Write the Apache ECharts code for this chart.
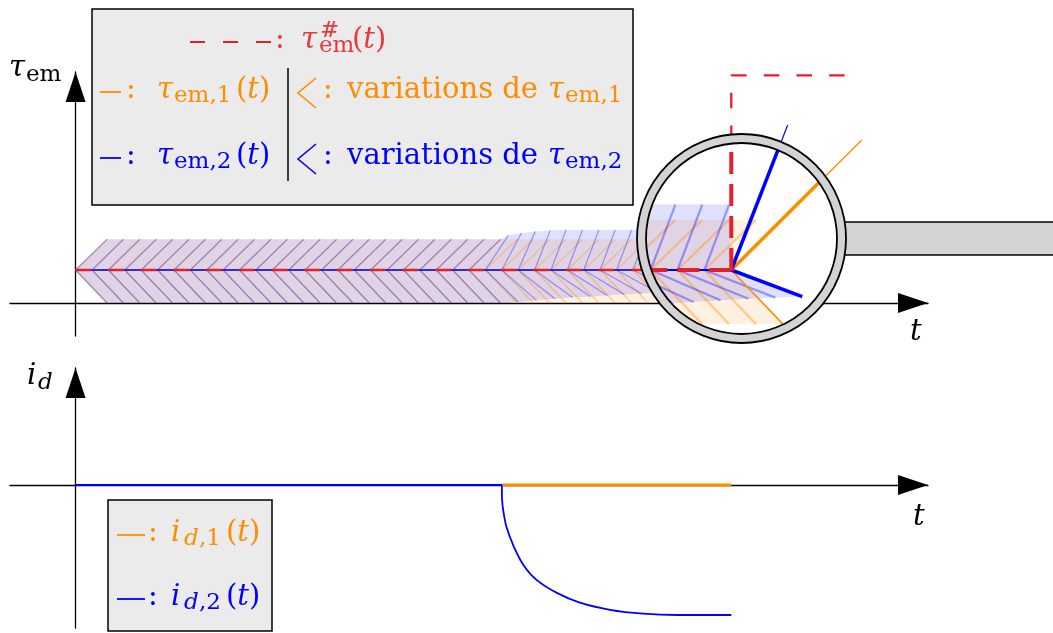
<!DOCTYPE html>
<html><head><meta charset="utf-8">
<script src="https://cdn.jsdelivr.net/npm/echarts@6/dist/echarts.min.js"></script>
<style>html,body{margin:0;padding:0;background:#fff}#c{width:1053px;height:633px}</style>
</head><body><div id="c"></div>
<script>
// ---------------- data ----------------
// reference torque (step at t = 10)
const tauRef = [[0, 1], [10, 1], [10, 6.9], [11.78, 6.9]];
// torque responses
const tau1 = [[0, 1], [10, 1], [11.99, 4.94]];
const tau2 = [[0, 1], [10, 1], [10.86, 5.39]];
// instants where the variation cones "<" are drawn
const chevronT = [0, 0.25, 0.5, 0.75, 1, 1.25, 1.5, 1.75, 2, 2.25, 2.5, 2.75, 3, 3.25, 3.5, 3.75,
  4, 4.25, 4.5, 4.75, 5, 5.25, 5.5, 5.75, 6, 6.25, 6.5, 6.75, 7, 7.25, 7.5, 7.75, 8, 8.25, 8.5,
  8.75, 9, 9.25, 9.5, 9.75, 10];
// cone arms (dt, dtau) common to both machines before divergence, and for machine 1 throughout
const armBase = { upDt: 0.48, upDtau: 0.93, downDt: 0.48, downDtau: -1.0 };
// machine 2 cone arms from t = 6.25 to 10
const blueDivergeT = 6.25;
const blueUpDt = [0.35, 0.30, 0.26, 0.24, 0.23, 0.23, 0.23, 0.23, 0.23, 0.23, 0.23, 0.23, 0.23, 0.23, 0.23, 0.23];
const blueUpDtau = [1.05, 1.12, 1.17, 1.20, 1.21, 1.21, 1.21, 1.21, 1.21, 1.21, 1.21, 1.21, 1.21, 1.21, 1.21, 1.21];
const blueDownDt = [0.50, 0.53, 0.56, 0.58, 0.60, 0.61, 0.62, 0.63, 0.63, 0.64, 0.64, 0.65, 0.65, 0.66, 0.66, 0.66];
const blueDownDtau = [-0.97, -0.92, -0.87, -0.83, -0.80, -0.77, -0.74, -0.71, -0.68, -0.65, -0.62, -0.59, -0.56, -0.53, -0.51, -0.49];
// d-axis currents
const id1 = [[6.5, 0], [10, 0]];
const id2 = [[0, 0], [6.5, 0], [6.503, -0.1], [6.52, -0.19], [6.57, -0.32], [6.68, -0.47], [6.83, -0.615],
  [7.03, -0.73], [7.34, -0.83], [7.69, -0.905], [8.15, -0.96], [8.66, -0.99], [9.17, -1.0], [10, -1.0]];
// magnifier (centre in data units)
const lensCenter = [10.156, 1.955];

// ---------------- style ----------------
const BLUE = '#0000ff', ORANGE = '#ff8c00', RED = '#e4202a', RED_T = '#e8383d';
const FONT = 'DejaVu Serif';
const S = 29, SS = 23;
const W = 1053;
const M = 1.64, R_IN = 95.5, R_OUT = 104.5;

function armsOf(key) {
  const j0 = chevronT.indexOf(blueDivergeT);
  return chevronT.map((t, i) => {
    if (key === 'o' || i < j0) return { t, up: [armBase.upDt, armBase.upDtau], down: [armBase.downDt, armBase.downDtau] };
    const j = i - j0;
    return { t, up: [blueUpDt[j], blueUpDtau[j]], down: [blueDownDt[j], blueDownDtau[j]] };
  });
}
const BASE = tauRef[0][1];
const SER = [
  { key: 'o', arms: armsOf('o'), fill: 'rgba(255,140,0,0.12)', line: 'rgba(255,140,0,0.38)', color: ORANGE, tau: tau1 },
  { key: 'b', arms: armsOf('b'), fill: 'rgba(0,0,255,0.12)', line: 'rgba(20,20,255,0.38)', color: BLUE, tau: tau2 }
];
function fillPoly(arms) {
  const n = arms.length, pts = [[arms[0].t, BASE]];
  for (let i = 0; i < n - 1; i++) pts.push([arms[i].t + arms[i].up[0], BASE + arms[i].up[1]]);
  pts.push([arms[n - 1].t, BASE]);
  for (let i = n - 1; i >= 0; i--) pts.push([arms[i].t + arms[i].down[0], BASE + arms[i].down[1]]);
  return pts;
}

function renderChevrons(params, api) {
  const ch = [];
  SER.forEach(s => {
    ch.push({ type: 'polygon', shape: { points: fillPoly(s.arms).map(p => api.coord(p)) }, style: { fill: s.fill } });
  });
  SER.forEach(s => {
    s.arms.slice(0, -1).forEach(a => {
      const v = api.coord([a.t, BASE]);
      const u = api.coord([a.t + a.up[0], BASE + a.up[1]]);
      const d = api.coord([a.t + a.down[0], BASE + a.down[1]]);
      ch.push({ type: 'polyline', shape: { points: [u, v, d] }, style: { stroke: s.line, lineWidth: 1.2, fill: null } });
    });
  });
  return { type: 'group', children: ch };
}

// ---- geometry helpers for the magnifier ----
function clipSeg(P, Q, C, R) {
  const dx = Q[0] - P[0], dy = Q[1] - P[1], fx = P[0] - C[0], fy = P[1] - C[1];
  const a = dx * dx + dy * dy, b = 2 * (fx * dx + fy * dy), c = fx * fx + fy * fy - R * R;
  const disc = b * b - 4 * a * c;
  if (a === 0 || disc <= 0) return null;
  const sq = Math.sqrt(disc);
  const t1 = Math.max((-b - sq) / (2 * a), 0), t2 = Math.min((-b + sq) / (2 * a), 1);
  if (t1 >= t2) return null;
  return [[P[0] + t1 * dx, P[1] + t1 * dy], [P[0] + t2 * dx, P[1] + t2 * dy]];
}
function cross(A, B, P) { return (B[0] - A[0]) * (P[1] - A[1]) - (B[1] - A[1]) * (P[0] - A[0]); }
function inter(P, Q, A, B) {
  const a1 = cross(A, B, P), a2 = cross(A, B, Q), t = a1 / (a1 - a2);
  return [P[0] + t * (Q[0] - P[0]), P[1] + t * (Q[1] - P[1])];
}
function clipPoly(subject, clip, C) {
  let out = subject;
  for (let i = 0; i < clip.length && out.length; i++) {
    const A = clip[i], B = clip[(i + 1) % clip.length];
    const sc = Math.sign(cross(A, B, C));
    const inside = p => Math.sign(cross(A, B, p)) === sc || cross(A, B, p) === 0;
    const inp = out; out = [];
    for (let j = 0; j < inp.length; j++) {
      const P = inp[j], Q = inp[(j + 1) % inp.length];
      const pi = inside(P), qi = inside(Q);
      if (pi) { out.push(P); if (!qi) out.push(inter(P, Q, A, B)); }
      else if (qi) out.push(inter(P, Q, A, B));
    }
  }
  return out;
}

function renderLens(params, api) {
  const C = api.coord(lensCenter);
  const V = api.coord([tauRef[1][0], tauRef[1][1]]);
  const mag = p => [V[0] + M * (p[0] - V[0]), V[1] + M * (p[1] - V[1])];
  const mc = p => mag(api.coord(p));
  const Rc = R_IN - 0.3;
  const circ = [];
  for (let k = 0; k < 180; k++) { const a = k / 180 * 2 * Math.PI; circ.push([C[0] + Rc * Math.cos(a), C[1] + Rc * Math.sin(a)]); }
  const ch = [];
  const hx = C[0] + R_OUT - 8;
  ch.push({ type: 'rect', shape: { x: hx, y: C[1] - 16.5, width: W - hx + 10, height: 33 }, style: { fill: '#d3d3d3', stroke: '#000', lineWidth: 1.7 } });
  ch.push({ type: 'circle', shape: { cx: C[0], cy: C[1], r: R_IN }, style: { fill: '#fff' } });
  const seg = (P, Q, style) => { const s = clipSeg(P, Q, C, Rc); if (s) ch.push({ type: 'line', shape: { x1: s[0][0], y1: s[0][1], x2: s[1][0], y2: s[1][1] }, style: style }); };
  SER.forEach(s => {
    const poly = clipPoly(fillPoly(s.arms).map(mc), circ, C);
    if (poly.length > 2) ch.push({ type: 'polygon', shape: { points: poly }, style: { fill: s.fill } });
  });
  SER.forEach(s => {
    s.arms.slice(0, -1).forEach(a => {
      const v = mc([a.t, BASE]);
      seg(v, mc([a.t + a.up[0], BASE + a.up[1]]), { stroke: s.line, lineWidth: 2.2 });
      seg(v, mc([a.t + a.down[0], BASE + a.down[1]]), { stroke: s.line, lineWidth: 2.2 });
    });
  });
  const lastO = SER[0].arms[SER[0].arms.length - 1], lastB = SER[1].arms[SER[1].arms.length - 1];
  seg(mc([lastO.t, BASE]), mc([lastO.t + lastO.down[0], BASE + lastO.down[1]]), { stroke: ORANGE, lineWidth: 1.6 });
  seg(mc([lastB.t, BASE]), mc([lastB.t + lastB.down[0], BASE + lastB.down[1]]), { stroke: BLUE, lineWidth: 3.5 });
  SER.forEach(s => {
    for (let i = 0; i < s.tau.length - 1; i++) {
      const w = i === s.tau.length - 2 ? 3.5 : 2.2;
      seg(mc(s.tau[i]), mc(s.tau[i + 1]), { stroke: s.color, lineWidth: w });
    }
  });
  const st = { stroke: RED, lineWidth: 4, lineDash: [22, 10] };
  seg(V, mc(tauRef[0]), st);
  seg(V, mc(tauRef[2]), st);
  ch.push({ type: 'ring', shape: { cx: C[0], cy: C[1], r: R_OUT, r0: R_IN }, style: { fill: '#d3d3d3', stroke: '#000', lineWidth: 1.8 } });
  return { type: 'group', children: ch };
}

// ---------------- text ----------------
const rich = {
  r: { fontSize: S, fontFamily: FONT },
  i: { fontSize: S, fontFamily: FONT, fontStyle: 'italic' }
};
function T(x, y, text, fill, size, italic) {
  return { type: 'text', x: x, y: y, z: 100, style: { text: text, fill: fill, rich: rich, fontFamily: FONT, fontSize: size || S,
    fontStyle: italic ? 'italic' : 'normal', textAlign: 'left', align: 'left', textVerticalAlign: 'middle', verticalAlign: 'middle' } };
}
function hline(x1, x2, y, color, dash, w) {
  return { type: 'line', z: 100, shape: { x1: x1, y1: y, x2: x2, y2: y }, style: { stroke: color, lineWidth: w || 1.8, lineDash: dash || null } };
}
function angle(x, y, color) {
  return { type: 'polyline', z: 100, shape: { points: [[x + 18, y - 15], [x, y], [x + 18, y + 15]] }, style: { stroke: color, lineWidth: 1.6, fill: null } };
}
const SUBDY = 4;
function legendRow(y, color, idx) {
  return [
    hline(100, 121, y, color),
    T(126, y - 2, ':', color),
    T(157, y - 2, 'τ', color, S, true),
    T(174, y + SUBDY, 'em,' + idx, color, SS),
    T(236, y - 2, '{r|(}{i|t}{r|)}', color),
    angle(298, y + 1, color),
    T(323, y - 2, ':', color),
    T(347, y - 2, 'variations de', color),
    T(548, y - 2, 'τ', color, S, true),
    T(565, y + SUBDY, 'em,' + idx, color, SS)
  ];
}
function idRow(y, color, idx) {
  return [
    hline(117, 145, y, color),
    T(148, y - 2, ':', color),
    T(171, y - 2, 'i', color, S, true),
    T(184, y + SUBDY, 'd', color, SS, true),
    T(199, y + SUBDY, ',' + idx, color, SS),
    T(226, y - 2, '{r|(}{i|t}{r|)}', color)
  ];
}

const graphics = [
  { type: 'rect', z: 90, shape: { x: 92, y: 9, width: 541, height: 196 }, style: { fill: '#ebebeb', stroke: '#000', lineWidth: 1.5 } },
  hline(190, 272, 42, RED, [15, 18], 2),
  T(275, 40, ':', RED_T),
  T(301, 40, 'τ', RED_T, S, true),
  T(320, 31, '#', RED_T, SS),
  T(319, 46, 'em', RED_T, SS),
  T(352, 40, '{r|(}{i|t}{r|)}', RED_T),
  { type: 'line', z: 100, shape: { x1: 288, y1: 68, x2: 288, y2: 181 }, style: { stroke: '#000', lineWidth: 1.5 } }
].concat(legendRow(92, ORANGE, 1), legendRow(158, BLUE, 2), [
  { type: 'rect', z: 90, shape: { x: 108, y: 500, width: 164, height: 131 }, style: { fill: '#ebebeb', stroke: '#000', lineWidth: 1.5 } }
], idRow(535, ORANGE, 1), idRow(599, BLUE, 2), [
  T(9, 68, 'τ', '#000', S, true),
  T(26, 75, 'em', '#000', SS),
  T(27, 376, 'i', '#000', S, true),
  T(38, 383, 'd', '#000', SS, true),
  T(910, 332, 't', '#000', S, true),
  T(913, 517, 't', '#000', S, true)
]);

// ---------------- chart ----------------
function xAx(g) {
  return { type: 'value', gridIndex: g, min: -1, max: 13,
    axisLine: { onZero: true, lineStyle: { color: '#000', width: 1.3 }, symbol: ['none', 'triangle'], symbolSize: [20, 30], symbolOffset: [0, -15] },
    axisTick: { show: false }, axisLabel: { show: false }, splitLine: { show: false } };
}
function yAx(g, min, max) {
  return { type: 'value', gridIndex: g, min: min, max: max,
    axisLine: { onZero: true, lineStyle: { color: '#000', width: 1.3 }, symbol: ['none', 'triangle'], symbolSize: [20, 30], symbolOffset: [0, -15] },
    axisTick: { show: false }, axisLabel: { show: false }, splitLine: { show: false } };
}
const chart = echarts.init(document.getElementById('c'));
chart.setOption({
  animation: false,
  backgroundColor: '#fff',
  grid: [{ left: 10, top: 72, width: 918, height: 264 }, { left: 10, top: 368, width: 918, height: 260 }],
  xAxis: [xAx(0), xAx(1)],
  yAxis: [yAx(0, -1, 7), yAx(1, -1.1, 0.9)],
  graphic: graphics,
  series: [
    { type: 'custom', name: 'variations', coordinateSystem: 'cartesian2d', xAxisIndex: 0, yAxisIndex: 0, data: [[0, 0]], renderItem: renderChevrons, clip: false, z: 2, silent: true },
    { type: 'line', name: 'τem,1', xAxisIndex: 0, yAxisIndex: 0, data: tau1, symbol: 'none', lineStyle: { color: ORANGE, width: 1.3 }, z: 3, silent: true },
    { type: 'line', name: 'τem,2', xAxisIndex: 0, yAxisIndex: 0, data: tau2, symbol: 'none', lineStyle: { color: BLUE, width: 1.3 }, z: 3, silent: true },
    { type: 'line', name: 'τem#', xAxisIndex: 0, yAxisIndex: 0, data: tauRef, symbol: 'none', lineStyle: { color: RED, width: 2.3, type: [15.5, 17.2] }, z: 4, silent: true },
    { type: 'custom', name: 'loupe', coordinateSystem: 'cartesian2d', xAxisIndex: 0, yAxisIndex: 0, data: [[0, 0]], renderItem: renderLens, clip: false, z: 10, silent: true },
    { type: 'line', name: 'id,1', xAxisIndex: 1, yAxisIndex: 1, data: id1, symbol: 'none', lineStyle: { color: ORANGE, width: 3 }, z: 3, silent: true },
    { type: 'line', name: 'id,2', xAxisIndex: 1, yAxisIndex: 1, data: id2, symbol: 'none', smooth: 0.25, lineStyle: { color: BLUE, width: 1.8 }, z: 4, silent: true }
  ]
});
</script></body></html>
